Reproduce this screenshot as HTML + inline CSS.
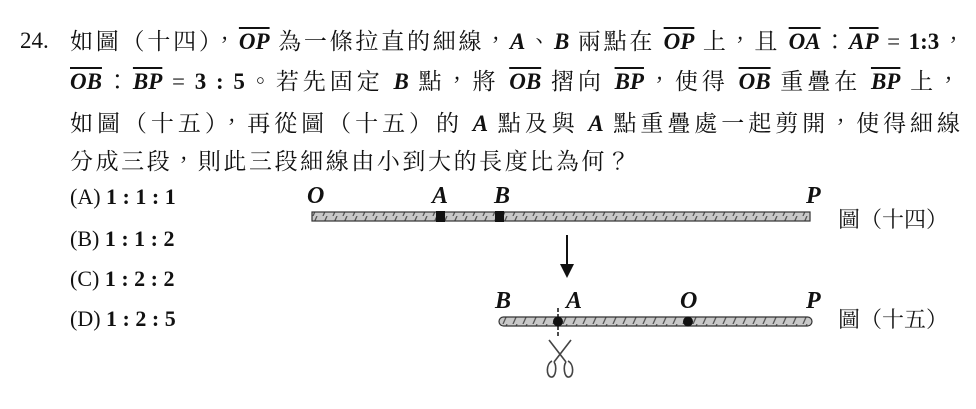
<!DOCTYPE html>
<html><head><meta charset="utf-8"><style>
body{margin:0;width:976px;height:409px;background:#fff;overflow:hidden;position:relative;font-family:"Liberation Serif","Noto Serif CJK TC","Noto Serif CJK SC",serif;color:#111}
.l{position:absolute;left:70px;width:895px;font-size:23px;line-height:30px;white-space:nowrap;text-align:justify;text-align-last:justify}
b{font-weight:bold;font-style:italic;font-family:"Liberation Serif",serif}
.o{text-decoration:overline}
.n{font-weight:bold;font-family:"Liberation Serif",serif}
.t{position:absolute;font-size:22px;white-space:nowrap}
.lab{position:absolute;font-weight:bold;font-style:italic;font-size:24px;font-family:"Liberation Serif",serif}
</style></head><body>
<div class="t" style="left:20px;top:28px;font-size:23px">24.</div>
<div class="l" style="top:27px">如圖（十四），<b class="o">OP</b> 為一條拉直的細線，<b>A</b>、<b>B</b> 兩點在 <b class="o">OP</b> 上，且 <b class="o">OA</b>：<b class="o">AP</b> = <span class="n">1:3</span>，</div>
<div class="l" style="top:67px;width:890px"><b class="o">OB</b>：<b class="o">BP</b> = <span class="n">3 : 5</span>。若先固定 <b>B</b> 點，將 <b class="o">OB</b> 摺向 <b class="o">BP</b>，使得 <b class="o">OB</b> 重疊在 <b class="o">BP</b> 上，</div>
<div class="l" style="top:109px;width:890px">如圖（十五），再從圖（十五）的 <b>A</b> 點及與 <b>A</b> 點重疊處一起剪開，使得細線</div>
<div class="l" style="top:147px;width:560px">分成三段，則此三段細線由小到大的長度比為何？</div>
<div class="t" style="left:70px;top:184px">(A) <span class="n">1 : 1 : 1</span></div>
<div class="t" style="left:70px;top:226px">(B) <span class="n">1 : 1 : 2</span></div>
<div class="t" style="left:70px;top:266px">(C) <span class="n">1 : 2 : 2</span></div>
<div class="t" style="left:70px;top:306px">(D) <span class="n">1 : 2 : 5</span></div>
<svg width="976" height="409" style="position:absolute;left:0;top:0">
<defs><pattern id="h" width="10" height="9" patternUnits="userSpaceOnUse"><rect width="10" height="9" fill="#c8c8c8"/><line x1="3" y1="9" x2="7" y2="0" stroke="#555" stroke-width="1.3"/></pattern></defs>
<rect x="312" y="212" width="498" height="9" fill="url(#h)" stroke="#333" stroke-width="1.2"/>
<rect x="436" y="211" width="9" height="11" fill="#111"/>
<rect x="495" y="211" width="9" height="11" fill="#111"/>
<rect x="499" y="317" width="313" height="9" rx="4.5" fill="url(#h)" stroke="#333" stroke-width="1.2"/>
<circle cx="558" cy="321.5" r="5" fill="#111"/>
<circle cx="688" cy="321.5" r="5" fill="#111"/>
<line x1="558" y1="308" x2="558" y2="336" stroke="#111" stroke-width="1.5" stroke-dasharray="4,2"/>
<line x1="567" y1="235" x2="567" y2="265" stroke="#111" stroke-width="2"/>
<polygon points="560,264 574,264 567,278" fill="#111"/>
<g fill="none" stroke="#444" stroke-width="1.6">
<path d="M549,340 L566,362"/><path d="M571,340 L554,362"/>
<path d="M552,361 C546,364 546,376 551,377 C556,378 557,366 554,362"/>
<path d="M568,361 C574,364 574,376 569,377 C564,378 563,366 566,362"/>
</g>
</svg>
<div class="lab" style="left:307px;top:183px">O</div>
<div class="lab" style="left:432px;top:183px">A</div>
<div class="lab" style="left:494px;top:183px">B</div>
<div class="lab" style="left:806px;top:183px">P</div>
<div class="lab" style="left:495px;top:288px">B</div>
<div class="lab" style="left:566px;top:288px">A</div>
<div class="lab" style="left:680px;top:288px">O</div>
<div class="lab" style="left:806px;top:288px">P</div>
<div class="t" style="left:838px;top:203px">圖（十四）</div>
<div class="t" style="left:838px;top:303px">圖（十五）</div>
</body></html>
